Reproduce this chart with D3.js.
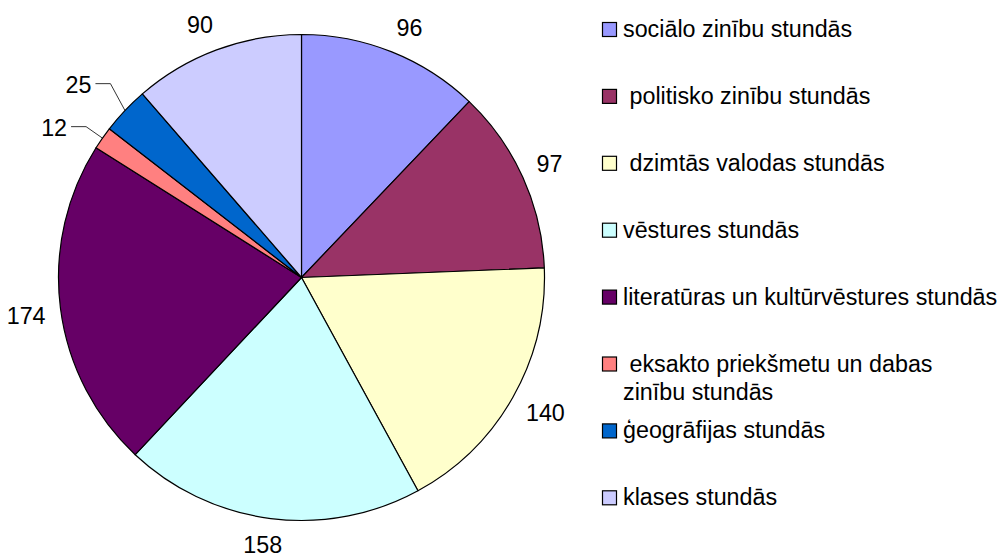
<!DOCTYPE html>
<html>
<head>
<meta charset="utf-8">
<script src="https://cdn.jsdelivr.net/npm/d3@7"></script>
<style>
  html, body { margin: 0; padding: 0; background: #fff; }
  svg { display: block; }
  text { font-family: "Liberation Sans", Arial, sans-serif; fill: #000; white-space: pre; }
</style>
</head>
<body>
<svg id="chart" width="1002" height="557"></svg>
<script>
const categories = [
  "sociālo zinību stundās",
  " politisko zinību stundās",
  " dzimtās valodas stundās",
  "vēstures stundās",
  "literatūras un kultūrvēstures stundās",
  " eksakto priekšmetu un dabas|zinību stundās",
  "ģeogrāfijas stundās",
  "klases stundās"
];
const values = [96, 97, 140, 158, 174, 12, 25, 90];
const colors = ["#9999FF", "#993366", "#FFFFCC", "#CCFFFF", "#660066", "#FF8080", "#0066CC", "#CCCCFF"];

const svg = d3.select("#chart");
const cx = 301.5, cy = 277.5, R = 243;
const fontSize = 23.3;

const data = categories.map((c, i) => ({ name: c, value: values[i], color: colors[i] }));

const pie = d3.pie().value(d => d.value).sort(null);
const arcs = pie(data);
const arcGen = d3.arc().innerRadius(0).outerRadius(R);

const g = svg.append("g").attr("transform", `translate(${cx},${cy})`);

g.selectAll("path.slice")
  .data(arcs)
  .enter().append("path")
  .attr("class", "slice")
  .attr("d", arcGen)
  .attr("fill", d => d.data.color)
  .attr("stroke", "#000")
  .attr("stroke-width", 1.2)
  .attr("stroke-linejoin", "round");

// labels
const mid = d => (d.startAngle + d.endAngle) / 2;
const leaderArcs = [];
arcs.forEach(d => {
  const a = mid(d);
  const s = Math.sin(a), c = -Math.cos(a);
  if (d.data.value < 30) { leaderArcs.push(d); return; }
  const t = g.append("text")
    .attr("font-size", fontSize)
    .attr("text-anchor", "middle")
    .text(d.data.value);
  const w = t.node().getComputedTextLength();
  const x = s * (R + 15) + Math.sign(s) * Math.min(1, Math.abs(s) * 2.5) * w / 2;
  const y = c * (R + 15) + Math.sign(c) * (5 + Math.abs(c) * 6);
  t.attr("x", x).attr("y", y + 8.3);
});

// leader-line labels (small slices), spaced to avoid overlap
const leaderItems = leaderArcs.map(d => {
  const a = mid(d);
  const s = Math.sin(a), c = -Math.cos(a);
  return { d, ex: s * R, ey: c * R, kx: s * (R + 20), ky: c * (R + 20), side: s < 0 ? -1 : 1 };
}).sort((p, q) => q.ky - p.ky);
const minGap = 43;
for (let i = 1; i < leaderItems.length; i++) {
  if (leaderItems[i].ky > leaderItems[i - 1].ky - minGap) {
    leaderItems[i].ky = leaderItems[i - 1].ky - minGap;
  }
}
leaderItems.forEach(it => {
  const x2 = it.kx + it.side * 15;
  g.append("path")
    .attr("d", d3.line()([[it.ex, it.ey], [it.kx, it.ky], [x2, it.ky]]))
    .attr("fill", "none")
    .attr("stroke", "#000")
    .attr("stroke-width", 0.8);
  g.append("text")
    .attr("font-size", fontSize)
    .attr("text-anchor", it.side < 0 ? "end" : "start")
    .attr("x", x2 + it.side * 4)
    .attr("y", it.ky + 9.5)
    .text(it.d.data.value);
});

// legend
const legX = 602, legY0 = 29, legStep = 66.9, box = 14, textX = 623, lineH = 28.5;
const leg = svg.append("g");
data.forEach((d, i) => {
  const yc = legY0 + i * legStep;
  leg.append("rect")
    .attr("x", legX + 0.5).attr("y", yc - box / 2 + 0.5)
    .attr("width", box).attr("height", box)
    .attr("fill", d.color)
    .attr("stroke", "#000").attr("stroke-width", 1.2);
  const lines = d.name.split("|");
  const t = leg.append("text")
    .attr("font-size", fontSize)
    .attr("x", textX)
    .attr("y", yc + 8);
  lines.forEach((ln, j) => {
    t.append("tspan").attr("x", textX).attr("dy", j === 0 ? 0 : lineH).text(ln);
  });
});
</script>
</body>
</html>
